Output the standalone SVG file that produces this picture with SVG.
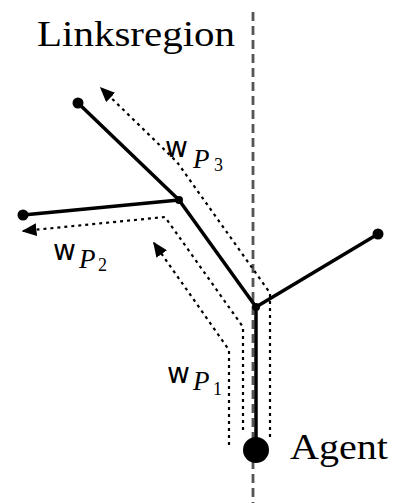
<svg xmlns="http://www.w3.org/2000/svg" width="398" height="503" viewBox="0 0 398 503">
<style>
.solid{stroke:#000;stroke-width:3.5;fill:none;stroke-linecap:round}
.dot{stroke:#000;stroke-width:2.2;fill:none;stroke-dasharray:3 4}
.region{stroke:#555;stroke-width:2.8;stroke-dasharray:9 5;fill:none}
.lbl{font-family:"Liberation Serif","Times New Roman",serif;font-size:35px;fill:#000}
.w{font-family:"DejaVu Sans",sans-serif;font-size:28px;fill:#000}
.p{font-family:"Liberation Serif",serif;font-style:italic;font-size:27px}
.s{font-family:"Liberation Serif",serif;font-size:18px}
</style>
<defs>
<marker id="arr" viewBox="0 0 10 10" refX="9" refY="5" markerWidth="15" markerHeight="13" markerUnits="userSpaceOnUse" orient="auto" preserveAspectRatio="none">
<path d="M0,0 L10,5 L0,10 z" fill="#000"/>
</marker>
</defs>
<g id="region">
<line class="region" x1="253" y1="12" x2="253" y2="503"/>
<text class="lbl" x="37" y="46" textLength="198" lengthAdjust="spacingAndGlyphs">Linksregion</text>
</g>
<g id="connectors">
<line class="solid" x1="256" y1="450" x2="256" y2="307"/>
<line class="solid" x1="256" y1="307" x2="378" y2="234"/>
<line class="solid" x1="256" y1="307" x2="179" y2="200"/>
<line class="solid" x1="179" y1="200" x2="78" y2="103"/>
<line class="solid" x1="179" y1="200" x2="23" y2="215"/>
<path class="dot" d="M270,437 L270,293 L177,162 L101,88" marker-end="url(#arr)"/>
<path class="dot" d="M243,430 L243,327 L165,217 L23,231" marker-end="url(#arr)"/>
<path class="dot" d="M229,445 L229,350 L154,243" marker-end="url(#arr)"/>
</g>
<g id="agent">
<circle cx="256" cy="450" r="13" fill="#000"/>
<text class="lbl" x="290" y="459" textLength="98" lengthAdjust="spacingAndGlyphs">Agent</text>
</g>
<g id="j1"><circle cx="256" cy="307" r="4" fill="#000"/></g>
<g id="j2"><circle cx="179" cy="200" r="4" fill="#000"/></g>
<g id="n_right"><circle cx="378" cy="234" r="5.5" fill="#000"/></g>
<g id="n_top"><circle cx="78" cy="103" r="5.5" fill="#000"/></g>
<g id="n_left"><circle cx="23" cy="215" r="5.5" fill="#000"/></g>
<g id="labels">
<text class="w" x="165" y="157">w<tspan class="p" x="193" y="168">P</tspan><tspan class="s" x="214" y="171">3</tspan></text>
<text class="w" x="53" y="260">w<tspan class="p" x="79" y="268">P</tspan><tspan class="s" x="98" y="271">2</tspan></text>
<text class="w" x="167" y="383">w<tspan class="p" x="193" y="390">P</tspan><tspan class="s" x="213" y="395">1</tspan></text>
</g>
</svg>
